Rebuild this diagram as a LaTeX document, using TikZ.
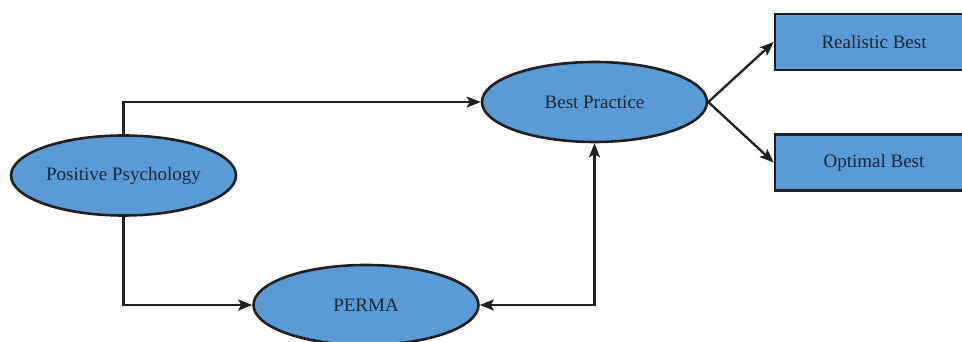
\documentclass[tikz,border=0pt]{standalone}
\usepackage{fontspec}
\setmainfont{Liberation Serif}
\usetikzlibrary{positioning,arrows.meta,shapes.geometric}
\definecolor{boxblue}{HTML}{5B9BD5}
\definecolor{inkline}{HTML}{231F20}
\definecolor{inktext}{HTML}{1F2533}

\tikzset{
    oval/.style={ellipse, draw=inkline, fill=boxblue, line width=2.6pt,
        minimum width=225pt, minimum height=80pt, inner sep=0pt,
        font=\fontsize{19}{22}\selectfont, text=inktext},
    outbox/.style={rectangle, draw=inkline, fill=boxblue, line width=2.6pt,
        minimum width=198pt, minimum height=56pt, inner sep=0pt,
        font=\fontsize{19}{22}\selectfont, text=inktext},
    link/.style={draw=inkline, line width=2.3pt,
        -{Stealth[length=14pt,width=11pt,inset=3pt]}}
}

\begin{document}
\begin{tikzpicture}[x=1pt, y=1pt]
    \useasboundingbox (0,0) rectangle (962,342);

    % the four ideas
    \node[oval] (pospsych) at (123.5,166.5) {Positive Psychology};
    \node[oval] (bestprac) at (594.5,240) {Best Practice};
    \node[oval] (perma) at (366,37) {PERMA};
    \node[outbox] (realbest) at (874,300) {Realistic Best};
    \node[outbox] (optbest) at (874,179.5) {Optimal Best};

    % connectors
    \draw[link] (pospsych.north) |- (bestprac.west);
    \draw[link] (pospsych.south) |- (perma.west);
    \draw[link, {Stealth[length=14pt,width=11pt,inset=3pt]}-{Stealth[length=14pt,width=11pt,inset=3pt]}]
        (perma.east) -| (bestprac.south);
    \draw[link] (bestprac.east) -- (realbest.west);
    \draw[link] (bestprac.east) -- (optbest.west);

\end{tikzpicture}
\end{document}
